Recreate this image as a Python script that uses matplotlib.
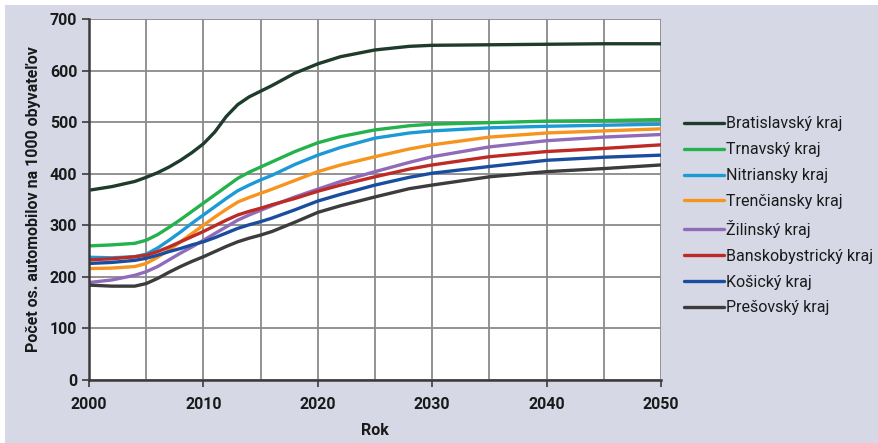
import matplotlib.pyplot as plt
from matplotlib.patches import Rectangle

plt.rcParams['font.family'] = ['Roboto', 'DejaVu Sans']

roky = [2000, 2002, 2004, 2005, 2006, 2007, 2008, 2009, 2010, 2011, 2012, 2013, 2014,
        2015, 2016, 2018, 2020, 2022, 2025, 2028, 2030, 2035, 2040, 2045, 2050]

bratislavsky = [368, 375, 385, 393, 402, 413, 426, 441, 458, 481, 511, 534, 549,
                560, 571, 595, 613, 627, 640, 647, 649, 650, 651, 652, 652]
trnavsky = [260, 262, 265, 271, 282, 296, 311, 327, 343, 359, 375, 391, 403,
            413, 423, 443, 460, 472, 485, 493, 496, 499, 502, 503, 505]
nitriansky = [238, 237, 239, 244, 256, 271, 287, 304, 320, 336, 352, 367, 378,
              388, 397, 418, 436, 451, 469, 479, 483, 489, 492, 494, 496]
trenciansky = [216, 217, 220, 226, 238, 252, 268, 284, 300, 316, 331, 345, 354,
               362, 370, 387, 404, 417, 433, 448, 456, 471, 479, 483, 487]
zilinsky = [189, 194, 203, 210, 220, 233, 246, 258, 271, 284, 297, 310, 320,
            329, 338, 355, 370, 385, 404, 422, 433, 452, 464, 471, 476]
banskobystricky = [233, 235, 239, 242, 249, 258, 268, 278, 288, 299, 310, 320, 327,
                   333, 340, 352, 366, 378, 394, 409, 417, 433, 443, 449, 456]
kosicky = [226, 228, 232, 236, 242, 249, 255, 262, 268, 276, 285, 294, 301,
           307, 314, 330, 347, 360, 378, 393, 401, 414, 426, 432, 436]
presovsky = [184, 182, 182, 187, 197, 209, 220, 230, 239, 249, 259, 268, 275,
             281, 288, 306, 325, 338, 355, 371, 378, 394, 404, 410, 417]

nazvy = ['Bratislavský kraj', 'Trnavský kraj', 'Nitriansky kraj', 'Trenčiansky kraj',
         'Žilinský kraj', 'Banskobystrický kraj', 'Košický kraj', 'Prešovský kraj']
serie = [bratislavsky, trnavsky, nitriansky, trenciansky, zilinsky, banskobystricky, kosicky, presovsky]
farby = ['#1e3b2b', '#23b24b', '#1b9ad6', '#f7941d', '#8f6bb9', '#be2b25', '#1a4d9f', '#3c3c3c']

fig = plt.figure(figsize=(8.79, 4.43), dpi=100)
fig.patches.append(Rectangle((5 / 879, 0), 1, 1 - 5 / 443, transform=fig.transFigure,
                             facecolor='#d6d8e6', edgecolor='none', zorder=-1))
ax = fig.add_axes([89 / 879, 1 - 380 / 443, (661 - 89) / 879, (380 - 19) / 443])
ax.set_facecolor('white')

for y, nazov, farba in zip(serie, nazvy, farby):
    ax.plot(roky, y, color=farba, lw=2.4, label=nazov, solid_capstyle='round',
            solid_joinstyle='round')

ax.set_xlim(2000, 2050)
ax.set_ylim(0, 700)
ax.set_xticks(range(2000, 2051, 10))
ax.set_xticks(range(2000, 2051, 5), minor=True)
ax.set_yticks(range(0, 701, 100))
ax.grid(True, which='both', color='#8a8a8a', lw=1.3)
ax.set_axisbelow(True)
for s in ['top', 'right']:
    ax.spines[s].set_visible(False)
for s in ['left', 'bottom']:
    ax.spines[s].set_color('#3a3a3a')
    ax.spines[s].set_linewidth(1.8)
ax.tick_params(axis='both', which='major', direction='out', length=5, width=1.2,
               color='#3a3a3a', labelsize=11.5, labelcolor='#1a1a1a')
ax.tick_params(axis='x', which='minor', length=0)
ax.tick_params(axis='x', pad=7)
for lab in ax.get_xticklabels() + ax.get_yticklabels():
    lab.set_fontweight('bold')

ax.set_xlabel('Rok', fontsize=11.5, fontweight='bold', color='#1a1a1a', labelpad=8)
ax.set_ylabel('Počet os. automobilov na 1000 obyvateľov', fontsize=11.5, fontweight='bold',
              color='#1a1a1a', labelpad=6)

fig.legend(loc='upper left', bbox_to_anchor=(678 / 879, 1 - 110 / 443), frameon=False,
           fontsize=11.5, handlelength=2.5, handletextpad=0.1, labelspacing=0.68,
           borderaxespad=0, labelcolor='#1a1a1a')

fig.savefig('out.png', dpi=100)
